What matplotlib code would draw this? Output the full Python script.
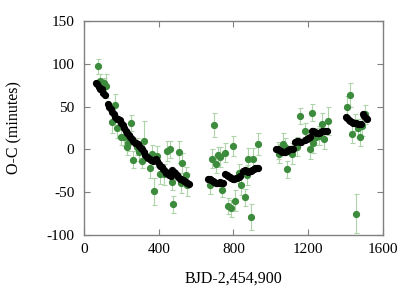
import matplotlib
matplotlib.use("Agg")
import matplotlib.pyplot as plt

# Observed transit times (O-C, minutes) with uncertainties
obs_t = [75, 85, 95, 107, 117, 149, 165, 178, 196, 215, 228, 236, 251, 260, 281,
         295, 313, 322, 352, 366, 373, 388, 405, 428, 446, 459, 469, 476, 507,
         521, 526, 545, 553,
         674, 684, 695, 705, 718, 730, 736, 757, 768, 788, 796, 807, 828, 839,
         860, 871, 880, 891, 903, 933,
         1036, 1045, 1067, 1076, 1084, 1111, 1140, 1157, 1184, 1207, 1218, 1228,
         1241, 1255, 1271, 1285, 1303,
         1406, 1426, 1436, 1449, 1456, 1468, 1479, 1490, 1502]
obs_oc = [97, 80, 73, 77, 74, 32, 52, 25, 15, 15, 3, 8, 31, -12, 3,
          -3, -13, 10, -22, -5, -49, -8, -29, -29, -2, 0, -38, -64, -3,
          -39, -16, -30, -42,
          -42, -11, 28, -17, -7, -9, -47, -4, -66, -69, 4, -60, -28, -42,
          -56, -30, -11, -79, -11, 6,
          -1, -5, 6, 3, -23, -5, 3, 39, 21, 0, 43, 8,
          15, 16, 30, 12, 33,
          49, 63, 18, 31, -75, 25, 15, 27, 41]
obs_err = [9, 8, 9, 7, 14, 13, 13, 12, 10, 11, 10, 10, 9, 10, 10,
           10, 9, 23, 11, 10, 16, 12, 11, 12, 12, 10, 10, 10, 13,
           12, 12, 10, 13,
           10, 11, 14, 10, 10, 12, 9, 11, 9, 10, 12, 12, 11, 11,
           10, 12, 13, 15, 13, 13,
           10, 11, 13, 10, 10, 12, 11, 9, 10, 11, 10, 12,
           10, 11, 12, 12, 16,
           13, 14, 11, 10, 23, 11, 11, 11, 11]

# Model O-C
mod_t = [65, 72, 80, 88, 96, 104, 112,
         128, 136, 144, 152, 160, 168, 176, 184, 192, 200, 208, 216, 224, 232,
         240, 248, 256, 264, 272, 280, 288, 296, 304, 312, 320, 328, 336, 344,
         352, 360, 368, 376, 384, 392, 400, 408, 416, 424, 432, 440, 448, 456,
         464, 472, 480, 488, 496, 504, 512, 520, 528, 536, 544, 552, 560,
         665, 673, 681, 689, 697, 705, 713, 721, 729, 737, 745,
         755, 763, 771, 779, 787, 795, 803, 811, 819, 827, 835,
         852, 860, 868, 876, 884, 892, 900, 908, 916, 924, 932,
         1028, 1036, 1044, 1052, 1060, 1068, 1076, 1084, 1092, 1100, 1108, 1116,
         1130, 1138, 1146, 1154, 1162, 1185, 1193, 1201, 1209,
         1218, 1226, 1234, 1242, 1250, 1258, 1266, 1274, 1282, 1290, 1298,
         1402, 1410, 1418, 1426, 1434, 1442, 1450, 1458, 1466, 1474, 1482,
         1492, 1500, 1508, 1516]
mod_oc = [77, 76, 73, 71, 70, 66, 63,
          53, 50, 47, 44, 41, 38, 36, 35, 34, 31, 28, 25, 22, 19,
          17, 14, 12, 10, 8, 7, 6, 4, 2, 0, -3, -6, -9, -10,
          -11, -12, -13, -12, -11, -14, -17, -19, -21, -23, -25, -27, -28, -30,
          -31, -24, -26, -28, -30, -32, -34, -35, -36, -37, -38, -39, -40,
          -34, -35, -36, -37, -38, -39, -39, -39, -38, -39, -39,
          -29, -30, -31, -32, -33, -34, -34, -33, -33, -32, -31,
          -25, -24, -25, -26, -25, -25, -24, -23, -22, -22, -22,
          1, 0, -1, -2, -3, -3, -3, -2, -1, 0, 1, 1,
          9, 10, 10, 9, 9, 11, 12, 13, 14,
          22, 21, 20, 19, 19, 19, 20, 21, 21, 22, 22,
          38, 37, 34, 33, 32, 31, 31, 31, 30, 30, 30,
          41, 39, 37, 35]

plt.rcParams['font.family'] = ['Liberation Serif', 'DejaVu Serif']
plt.rcParams['font.size'] = 11
plt.rcParams['axes.unicode_minus'] = False

fig = plt.figure(figsize=(4.15, 2.91), dpi=100)
ax = fig.add_axes([0.2024, 0.1924, 0.7205, 0.7354])

ax.errorbar(obs_t, obs_oc, yerr=obs_err, fmt='none', ecolor='#b0d4aa',
            elinewidth=0.8, capsize=1.8, capthick=0.8, zorder=1)
ax.plot(obs_t, obs_oc, 'o', color='#3d8c3d', markersize=4.2, zorder=2)
ax.plot(mod_t, mod_oc, 'o', color='black', markersize=4.2, zorder=3)

ax.set_xlim(0, 1600)
ax.set_ylim(-100, 150)
ax.set_xticks([0, 400, 800, 1200, 1600])
ax.set_yticks([-100, -50, 0, 50, 100, 150])
ax.tick_params(direction='in', top=True, right=True, length=4,
               color='#808080', width=0.8, labelsize=11)
ax.tick_params(axis='y', pad=7)
ax.tick_params(axis='x', pad=6)
for s in ax.spines.values():
    s.set_color('#808080')
    s.set_linewidth(1.0)

ax.set_xlabel('BJD-2,454,900', fontsize=11.5, labelpad=10)
ax.set_ylabel('O-C (minutes)', fontsize=11.5, labelpad=17)

fig.savefig('out.png', dpi=100, facecolor='white')
